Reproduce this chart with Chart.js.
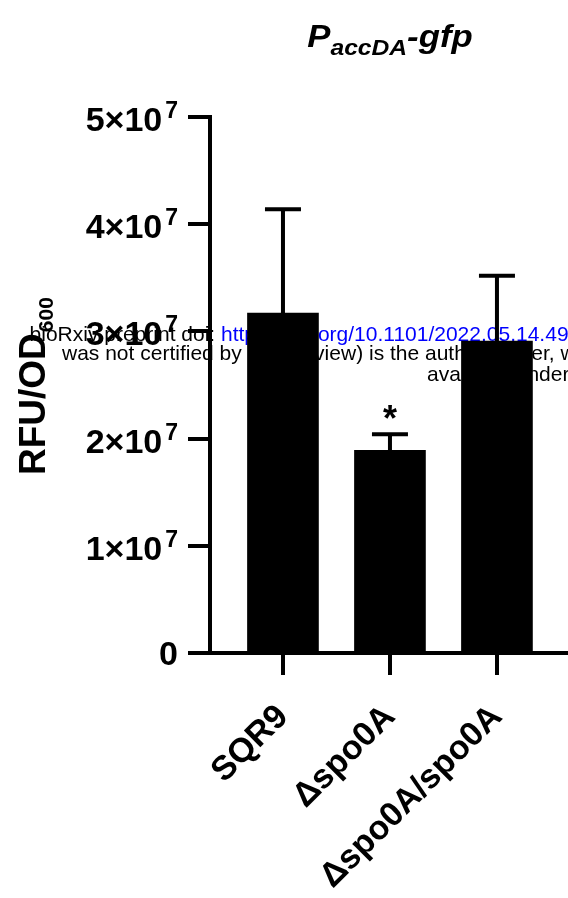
<!DOCTYPE html>
<html>
<head>
<meta charset="utf-8">
<script src="https://cdn.jsdelivr.net/npm/chart.js@4.4.1/dist/chart.umd.min.js"></script>
<style>
  html, body { margin: 0; padding: 0; background: #fff; }
  canvas { display: block; }
</style>
</head>
<body>
<canvas id="chart" width="568" height="898"></canvas>
<script>
// values
const strains = ['SQR9', 'Δspo0A', 'Δspo0A/spo0A'];
const meanRfu = [3.17e7, 1.89e7, 2.91e7];
const sdRfu = [0.97e7, 0.15e7, 0.61e7];
const marks = ['', '*', ''];
const yTicks = [0, 1e7, 2e7, 3e7, 4e7, 5e7];
const yTickBase = ['0', '1×10', '2×10', '3×10', '4×10', '5×10'];
const yTickExp = ['', '7', '7', '7', '7', '7'];

const FONT = '"Liberation Sans", Arial, sans-serif';

// preprint stamp that sits behind the plot
const watermark = {
  id: 'watermark',
  beforeDraw(chart) {
    const ctx = chart.ctx;
    ctx.save();
    ctx.font = '21px ' + FONT;
    ctx.textBaseline = 'alphabetic';
    ctx.fillStyle = '#000';
    ctx.textAlign = 'right';
    ctx.fillText('bioRxiv preprint doi: ', 221, 341);
    ctx.textAlign = 'left';
    ctx.fillStyle = '#0000ff';
    ctx.fillText('https://doi.org/10.1101/2022.05.14.491963', 221, 341);
    ctx.fillStyle = '#000';
    ctx.fillText('was not certified by peer review) is the author/funder, who has granted bioRxiv a license', 62, 360);
    ctx.fillText('available under aCC-BY-NC-ND 4.0 International license.', 427, 381);
    ctx.restore();
  }
};

// error bars and significance marks
const errorBars = {
  id: 'errorBars',
  afterDatasetsDraw(chart) {
    const ctx = chart.ctx;
    const ys = chart.scales.y;
    const meta = chart.getDatasetMeta(0);
    ctx.save();
    ctx.strokeStyle = '#000';
    ctx.fillStyle = '#000';
    ctx.lineWidth = 4;
    meta.data.forEach((bar, i) => {
      const yTop = ys.getPixelForValue(meanRfu[i] + sdRfu[i]);
      const yBar = ys.getPixelForValue(meanRfu[i]);
      ctx.beginPath();
      ctx.moveTo(bar.x, yBar);
      ctx.lineTo(bar.x, yTop);
      ctx.moveTo(bar.x - 18, yTop);
      ctx.lineTo(bar.x + 18, yTop);
      ctx.stroke();
      if (marks[i]) {
        ctx.font = 'bold 36px ' + FONT;
        ctx.textAlign = 'center';
        ctx.textBaseline = 'alphabetic';
        ctx.fillText(marks[i], bar.x, yTop - 3);
      }
    });
    ctx.restore();
  }
};

// y tick labels with superscript, axis title, chart title
const labels = {
  id: 'labels',
  afterDraw(chart) {
    const ctx = chart.ctx;
    const ys = chart.scales.y;
    const area = chart.chartArea;
    ctx.save();
    ctx.fillStyle = '#000';
    ctx.textBaseline = 'alphabetic';
    ctx.textAlign = 'right';
    const right = area.left - 32;
    yTicks.forEach((v, i) => {
      const py = ys.getPixelForValue(v);
      let ew = 0;
      if (yTickExp[i]) {
        ctx.font = 'bold 23px ' + FONT;
        ew = ctx.measureText(yTickExp[i]).width + 3;
        ctx.fillText(yTickExp[i], right, py + 1);
      }
      ctx.font = 'bold 34px ' + FONT;
      ctx.fillText(yTickBase[i], right - ew, py + (ew ? 14 : 12));
    });

    // RFU/OD600
    ctx.save();
    ctx.translate(45, 475);
    ctx.rotate(-Math.PI / 2);
    ctx.textAlign = 'left';
    ctx.font = 'bold 37px ' + FONT;
    ctx.fillText('RFU/OD', 0, 0);
    const w = ctx.measureText('RFU/OD').width;
    ctx.font = 'bold 21px ' + FONT;
    ctx.fillText('600', w + 1, 8);
    ctx.restore();

    // P accDA -gfp
    const parts = [
      { t: 'P', size: 31, dy: 0 },
      { t: 'accDA', size: 22, dy: 8 },
      { t: '-gfp', size: 31, dy: 0 }
    ];
    const stretch = 1.12;
    let total = 0;
    parts.forEach(p => {
      ctx.font = 'italic bold ' + p.size + 'px ' + FONT;
      p.w = ctx.measureText(p.t).width;
      total += p.w;
    });
    ctx.save();
    ctx.translate(chart.scales.x.getPixelForValue(1) - total * stretch / 2, 47);
    ctx.scale(stretch, 1);
    let x = 0;
    ctx.textAlign = 'left';
    parts.forEach(p => {
      ctx.font = 'italic bold ' + p.size + 'px ' + FONT;
      ctx.fillText(p.t, x, p.dy);
      x += p.w;
    });
    ctx.restore();
    ctx.restore();
  }
};

new Chart(document.getElementById('chart'), {
  type: 'bar',
  data: {
    datasets: [{
      data: strains.map((s, i) => ({ x: i, y: meanRfu[i] })),
      backgroundColor: '#000',
      borderWidth: 0,
      barThickness: 71
    }]
  },
  options: {
    responsive: false,
    animation: false,
    layout: { padding: { top: 117, left: 0, right: 0, bottom: 0 } },
    plugins: {
      legend: { display: false },
      tooltip: { enabled: false },
      title: { display: false }
    },
    scales: {
      x: {
        type: 'linear',
        offset: false,
        min: -0.682,
        max: 2.664,
        afterBuildTicks: s => { s.ticks = strains.map((n, i) => ({ value: i })); },
        afterFit: s => { s.height = 245; },
        border: { display: true, color: '#000', width: 4 },
        grid: { offset: false, drawOnChartArea: false, drawTicks: true, tickLength: 22, lineWidth: 4, tickWidth: 4, color: '#000' },
        ticks: {
          autoSkip: false,
          maxRotation: 45,
          minRotation: 45,
          padding: 22,
          color: '#000',
          font: { family: FONT, size: 34, weight: 'bold' },
          callback: (v, i) => strains[i]
        }
      },
      y: {
        min: 0,
        max: 5e7,
        afterBuildTicks: s => { s.ticks = yTicks.map(v => ({ value: v })); },
        afterFit: s => { s.width = 210; },
        border: { display: true, color: '#000', width: 4 },
        grid: { drawOnChartArea: false, drawTicks: true, tickLength: 22, lineWidth: 4, tickWidth: 4, color: '#000' },
        ticks: { display: false }
      }
    }
  },
  plugins: [watermark, errorBars, labels]
});
</script>
</body>
</html>
